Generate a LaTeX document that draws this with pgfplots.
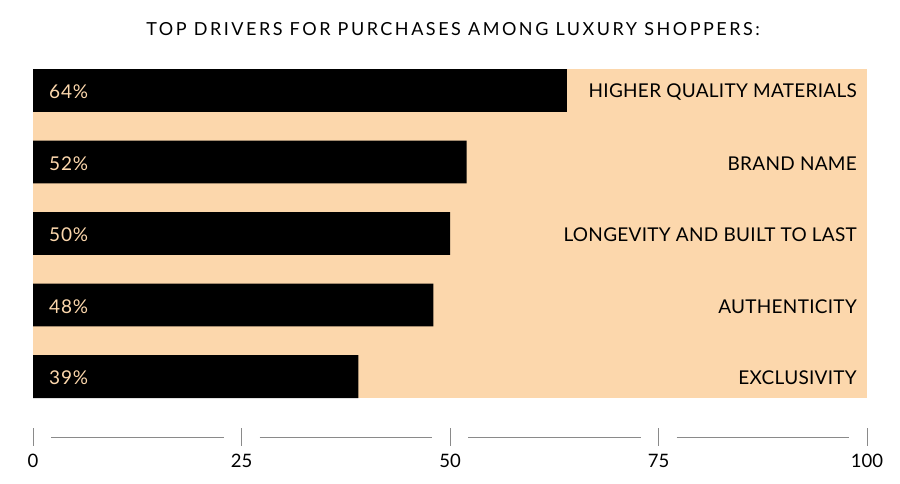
\documentclass[border=0pt]{standalone}
\usepackage{fontspec}
\setmainfont{Lato}
\newfontfamily\spaced[LetterSpace=14]{Lato}
\newfontfamily\catfont[LetterSpace=1.5]{Lato}
\newfontfamily\numfont[LetterSpace=5]{Lato}
\usepackage{pgfplots}
\pgfplotsset{compat=1.18}
\definecolor{peach}{HTML}{FCD7AC}
\definecolor{tickgray}{HTML}{8A8A8A}
\tikzset{
  vlab/.style={anchor=west, text=peach, font=\numfont\fontsize{19}{19}\selectfont, yshift=-1.5pt},
  clab/.style={anchor=east, font=\catfont\fontsize{19}{19}\selectfont, yshift=-1.5pt}}
\begin{document}
\begin{tikzpicture}[x=1pt,y=1pt]
\path[use as bounding box] (0,0) rectangle (900,484);
\node[font=\spaced\fontsize{18}{18}\selectfont, anchor=center] at (453,455) {TOP DRIVERS FOR PURCHASES AMONG LUXURY SHOPPERS:};
\begin{axis}[at={(33pt,86pt)}, anchor=south west, scale only axis,
  width=834pt, height=329pt, xmin=0, xmax=100, ymin=-0.3, ymax=4.3,
  y dir=reverse, axis line style={draw=none}, xtick=\empty, ytick=\empty,
  axis background/.style={fill=peach}, xbar, bar width=0.6, bar shift=0pt,
  clip=false]
\addplot[fill=black, draw=none] coordinates {(64,0) (52,1) (50,2) (48,3) (39,4)};
\node[vlab] at (axis cs:1.5,0) {64\%};
\node[vlab] at (axis cs:1.5,1) {52\%};
\node[vlab] at (axis cs:1.5,2) {50\%};
\node[vlab] at (axis cs:1.5,3) {48\%};
\node[vlab] at (axis cs:1.5,4) {39\%};
\node[clab] at (axis cs:99.2,0) {HIGHER QUALITY MATERIALS};
\node[clab] at (axis cs:99.2,1) {BRAND NAME};
\node[clab] at (axis cs:99.2,2) {LONGEVITY AND BUILT TO LAST};
\node[clab] at (axis cs:99.2,3) {AUTHENTICITY};
\node[clab] at (axis cs:99.2,4) {EXCLUSIVITY};
\pgfplotsinvokeforeach{0,25,50,75,100}{
  \draw[tickgray, line width=0.8pt] ([yshift=-30pt]axis cs:#1,4.3) -- ([yshift=-48pt]axis cs:#1,4.3);
  \node[font=\fontsize{18.5}{18.5}\selectfont, anchor=center] at ([yshift=-63pt]axis cs:#1,4.3) {#1};
}
\pgfplotsinvokeforeach{0,25,50,75}{
  \draw[tickgray, line width=0.8pt] ([yshift=-39pt,xshift=18pt]axis cs:#1,4.3) -- ([yshift=-39pt,xshift=-18pt]axis cs:#1+25,4.3);
}
\end{axis}
\end{tikzpicture}
\end{document}
